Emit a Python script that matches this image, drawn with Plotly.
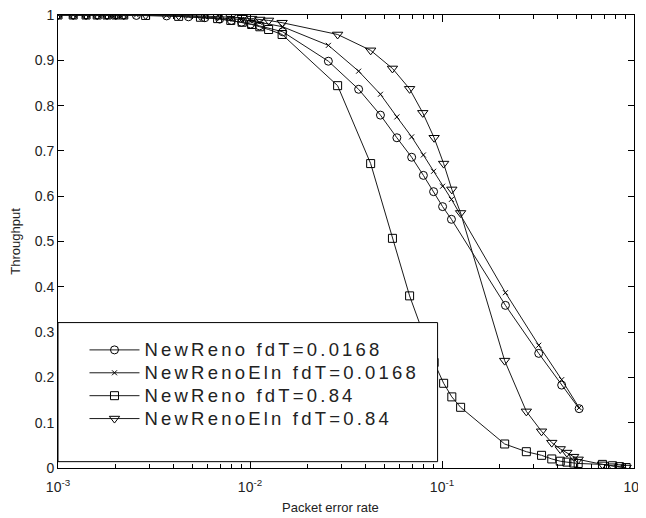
import plotly.graph_objects as go

# Packet error rates (fdT = 0.0168 runs)
per_a = [0.001, 0.0012, 0.0014, 0.0016, 0.0018, 0.002, 0.0022, 0.00256, 0.00368, 0.00478,
         0.00582, 0.00695, 0.0080, 0.00904, 0.01007, 0.0112, 0.0148, 0.0256, 0.0368, 0.0478,
         0.0582, 0.0695, 0.0800, 0.0904, 0.1007, 0.112, 0.214, 0.319, 0.420, 0.518]
newreno_a = [1, 1, 1, 1, 1, 1, 1, 0.999, 0.998, 0.996,
             0.994, 0.991, 0.988, 0.984, 0.980, 0.976, 0.963, 0.898, 0.836, 0.779,
             0.729, 0.686, 0.646, 0.610, 0.577, 0.549, 0.359, 0.253, 0.183, 0.131]
newrenoeln_a = [1, 1, 1, 1, 1, 1, 1, 1, 0.999, 0.998,
                0.996, 0.994, 0.992, 0.990, 0.987, 0.984, 0.974, 0.933, 0.876, 0.825,
                0.775, 0.731, 0.691, 0.655, 0.622, 0.593, 0.387, 0.271, 0.195, 0.133]

# Packet error rates (fdT = 0.84 runs)
per_b = [0.001, 0.0012, 0.0014, 0.0016, 0.0018, 0.002, 0.0022, 0.00286, 0.00425, 0.00552,
         0.00678, 0.00794, 0.0091, 0.0102, 0.01125, 0.0125, 0.0147, 0.0286, 0.0425, 0.0552,
         0.0678, 0.0794, 0.091, 0.102, 0.1125, 0.125, 0.212, 0.275, 0.33, 0.373,
         0.413, 0.447, 0.485, 0.512, 0.685, 0.773, 0.84, 0.91]
newreno_b = [1, 1, 1, 1, 1, 1, 1, 0.999, 0.997, 0.995,
             0.992, 0.988, 0.984, 0.979, 0.974, 0.968, 0.957, 0.844, 0.672, 0.507,
             0.380, 0.300, 0.233, 0.187, 0.157, 0.134, 0.053, 0.036, 0.028, 0.020,
             0.015, 0.013, 0.011, 0.010, 0.008, 0.005, 0.003, 0.001]
newrenoeln_b = [1, 1, 1, 1, 1, 1, 1, 1, 0.999, 0.998,
                0.997, 0.996, 0.994, 0.992, 0.990, 0.988, 0.983, 0.957, 0.922, 0.882,
                0.837, 0.784, 0.729, 0.672, 0.615, 0.563, 0.237, 0.125, 0.081, 0.056,
                0.042, 0.034, 0.025, 0.019, 0.008, 0.004, 0.002, 0.001]

names = ["NewReno fdT=0.0168", "NewRenoEln fdT=0.0168", "NewReno fdT=0.84", "NewRenoEln fdT=0.84"]
xtick_vals = [0.001, 0.01, 0.1, 1]
xtick_text = ["10<sup>-3</sup>", "10<sup>-2</sup>", "10<sup>-1</sup>", "10<sup>0</sup>"]
ytick_vals = [0, 0.1, 0.2, 0.3, 0.4, 0.5, 0.6, 0.7, 0.8, 0.9, 1]
ytick_text = ["0", "0.1", "0.2", "0.3", "0.4", "0.5", "0.6", "0.7", "0.8", "0.9", "1"]

series = [
    (per_a, newreno_a, "circle-open", 8),
    (per_a, newrenoeln_a, "x-thin-open", 5),
    (per_b, newreno_b, "square-open", 8),
    (per_b, newrenoeln_b, "triangle-down-open", 9),
]

font_main = "Liberation Sans, Arial, sans-serif"

fig = go.Figure()
for (xs, ys, sym, sz), nm in zip(series, names):
    fig.add_trace(go.Scatter(
        x=xs, y=ys, mode="lines+markers",
        name='<span style="font-size:18.5px;letter-spacing:3.2px">' + nm + '</span>',
        line=dict(color="#1a1a1a", width=1),
        marker=dict(symbol=sym, size=sz, color="#000000",
                    line=dict(color="#000000", width=1)),
    ))

# The page body keeps an 8 px margin, so the figure is 8 px smaller on each axis
fig.update_layout(
    width=638, height=510,
    margin=dict(l=50, r=12, t=7, b=50, autoexpand=False),
    paper_bgcolor="white", plot_bgcolor="white",
    font=dict(family=font_main, size=14, color="#000000"),
    showlegend=True,
    legend=dict(
        x=0.046, y=0.297, xanchor="left", yanchor="top",
        bgcolor="rgba(0,0,0,0)", borderwidth=0,
        font=dict(family=font_main, size=15.3, color="#222222"),
        itemwidth=50, tracegroupgap=0,
    ),
    shapes=[dict(
        type="rect", xref="paper", yref="paper",
        x0=0, x1=0.659, y0=0.014, y1=0.321,
        line=dict(color="#000000", width=1), fillcolor="white", layer="above",
    )],
    annotations=[dict(
        text="Packet error rate", xref="paper", yref="paper",
        x=(331 - 58.5) / 576, y=(468.5 - 508) / 453, xanchor="center", yanchor="middle",
        showarrow=False, font=dict(family=font_main, size=13, color="#222222"),
    )],
)

fig.update_xaxes(
    type="log", range=[-3, 0], automargin=False, ticklabeloverflow="allow",
    tickmode="array", tickvals=xtick_vals, ticktext=xtick_text,
    ticks="inside", ticklen=7, tickwidth=1, tickcolor="#000000",
    minor=dict(ticks="inside", ticklen=4, tickwidth=1, tickcolor="#000000",
               tickvals=[m * 10 ** e for e in (-3, -2, -1) for m in range(2, 10)]),
    showline=True, linecolor="#000000", linewidth=1, mirror="allticks",
    showgrid=False, zeroline=False,
    tickfont=dict(family=font_main, size=14, color="#222222"),
    ticklabelstandoff=6,
)
fig.update_yaxes(
    range=[0, 1], automargin=False, ticklabeloverflow="allow",
    tickmode="array", tickvals=ytick_vals, ticktext=ytick_text,
    ticks="inside", ticklen=6, tickwidth=1, tickcolor="#000000",
    showline=True, linecolor="#000000", linewidth=1, mirror="allticks",
    showgrid=False, zeroline=False,
    tickfont=dict(family=font_main, size=14, color="#222222"),
    title=dict(text="Throughput", font=dict(family=font_main, size=13, color="#222222"), standoff=13),
)

fig.write_html("out.html")
